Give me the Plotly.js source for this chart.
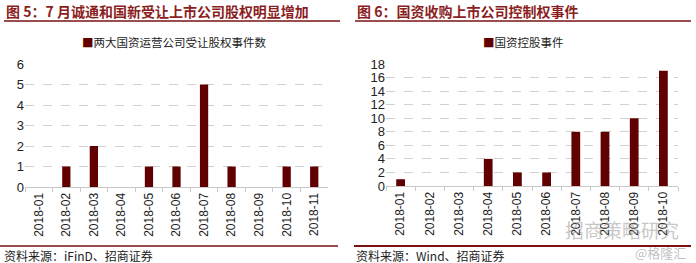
<!DOCTYPE html>
<html><head><meta charset="utf-8">
<script src="https://cdn.plot.ly/plotly-3.0.1.min.js"></script>
<style>html,body{margin:0;padding:0;background:#fff}#c{width:696px;height:263px}</style>
</head><body><div id="c"></div>
<script>
const months1 = ["2018-01","2018-02","2018-03","2018-04","2018-05","2018-06","2018-07","2018-08","2018-09","2018-10","2018-11"];
const transfers = [0,1,2,0,1,1,5,1,0,1,1];
const months2 = ["2018-01","2018-02","2018-03","2018-04","2018-05","2018-06","2018-07","2018-08","2018-09","2018-10"];
const controls = [1,0,0,4,2,2,8,8,10,17];
const yTicks1 = [0,1,2,3,4,5,6];
const yTicks2 = [0,2,4,6,8,10,12,14,16,18];
const name1 = "两大国资运营公司受让股权事件数";
const name2 = "国资控股事件";
const title1 = "图 5：7 月诚通和国新受让上市公司股权明显增加";
const title2 = "图 6：国资收购上市公司控制权事件";
const src1 = "资料来源：iFinD、招商证券";
const src2 = "资料来源：Wind、招商证券";

const W = 696, H = 263;
const px = x => x / W, py = y => 1 - y / H;
const BAR = "#600000", TITLE = "#8B1E1E";
const CJK = "'Noto Sans CJK SC', sans-serif";
const LAT = "'Liberation Sans', Arial, sans-serif";

const traces = [
  {type:"bar", x: months1, y: transfers, name: name1, marker:{color:BAR}, width:0.3, xaxis:"x", yaxis:"y", showlegend:false},
  {type:"bar", x: months2, y: controls, name: name2, marker:{color:BAR}, width:0.3, xaxis:"x2", yaxis:"y2", showlegend:false}
];

const xBase = {type:"category", showgrid:false, showline:true, linecolor:"#c8c8c8", linewidth:1,
  ticks:"outside", tickson:"boundaries", ticklen:4, tickcolor:"#c8c8c8", tickangle:-90,
  tickfont:{family:LAT, size:12, color:"#222"}, fixedrange:true};
const yBase = {showline:false, zeroline:false, showgrid:true, gridcolor:"#d0d0d0", griddash:"dash", gridwidth:1,
  tickfont:{family:LAT, size:13, color:"#222"}, ticks:"", fixedrange:true};

const legendText = n => '<span style="color:' + BAR + '">■</span>' + n;

const layout = {
  width: W, height: H, margin:{l:0,r:0,t:0,b:0}, paper_bgcolor:"#fff", plot_bgcolor:"#fff",
  showlegend:false, bargap:0.7,
  xaxis: Object.assign({}, xBase, {domain:[px(25), px(328)], anchor:"y"}),
  yaxis: Object.assign({}, yBase, {domain:[py(187), py(64)], range:[0,6], tickvals:yTicks1, anchor:"x"}),
  xaxis2: Object.assign({}, xBase, {domain:[px(386), px(678)], anchor:"y2"}),
  yaxis2: Object.assign({}, yBase, {domain:[py(186), py(64)], range:[0,18], tickvals:yTicks2, anchor:"x2"}),
  annotations: [
    {text:legendText(name1), xref:"paper", yref:"paper", x:px(174), y:py(42), xanchor:"center", yanchor:"middle", showarrow:false,
      font:{family:CJK, size:11.5, color:"#222"}},
    {text:legendText(name2), xref:"paper", yref:"paper", x:px(523), y:py(42), xanchor:"center", yanchor:"middle", showarrow:false,
      font:{family:CJK, size:11.5, color:"#222"}},
    {text:title1, xref:"paper", yref:"paper", x:px(4), y:py(11), xanchor:"left", yanchor:"middle", showarrow:false,
      font:{family:CJK, size:14, color:TITLE, weight:"bold"}},
    {text:title2, xref:"paper", yref:"paper", x:px(355), y:py(11), xanchor:"left", yanchor:"middle", showarrow:false,
      font:{family:CJK, size:14, color:TITLE, weight:"bold"}},
    {text:src1, xref:"paper", yref:"paper", x:px(2), y:py(255), xanchor:"left", yanchor:"middle", showarrow:false,
      font:{family:CJK, size:12, color:"#222"}},
    {text:src2, xref:"paper", yref:"paper", x:px(354), y:py(255), xanchor:"left", yanchor:"middle", showarrow:false,
      font:{family:CJK, size:12, color:"#222"}},
    {text:"招商策略研究", xref:"paper", yref:"paper", x:px(622), y:py(229), xanchor:"center", yanchor:"middle", showarrow:false,
      font:{family:CJK, size:19, color:"rgba(150,150,150,0.55)"}},
    {text:"@格隆汇", xref:"paper", yref:"paper", x:px(660), y:py(252), xanchor:"center", yanchor:"middle", showarrow:false,
      font:{family:CJK, size:13, color:"rgba(150,150,150,0.6)"}}
  ],
  shapes: [
    {type:"line", xref:"paper", yref:"paper", x0:px(4), x1:px(340), y0:py(21), y1:py(21), line:{color:"#7a1010", width:1.5}},
    {type:"line", xref:"paper", yref:"paper", x0:px(355), x1:px(691), y0:py(21), y1:py(21), line:{color:"#7a1010", width:1.5}},
    {type:"line", xref:"paper", yref:"paper", x0:px(0), x1:px(338), y0:py(246), y1:py(246), line:{color:"#7a1010", width:1.5}},
    {type:"line", xref:"paper", yref:"paper", x0:px(354), x1:px(691), y0:py(246), y1:py(246), line:{color:"#7a1010", width:2}}
  ]
};
Plotly.newPlot("c", traces, layout, {displayModeBar:false, staticPlot:true});
</script></body></html>
